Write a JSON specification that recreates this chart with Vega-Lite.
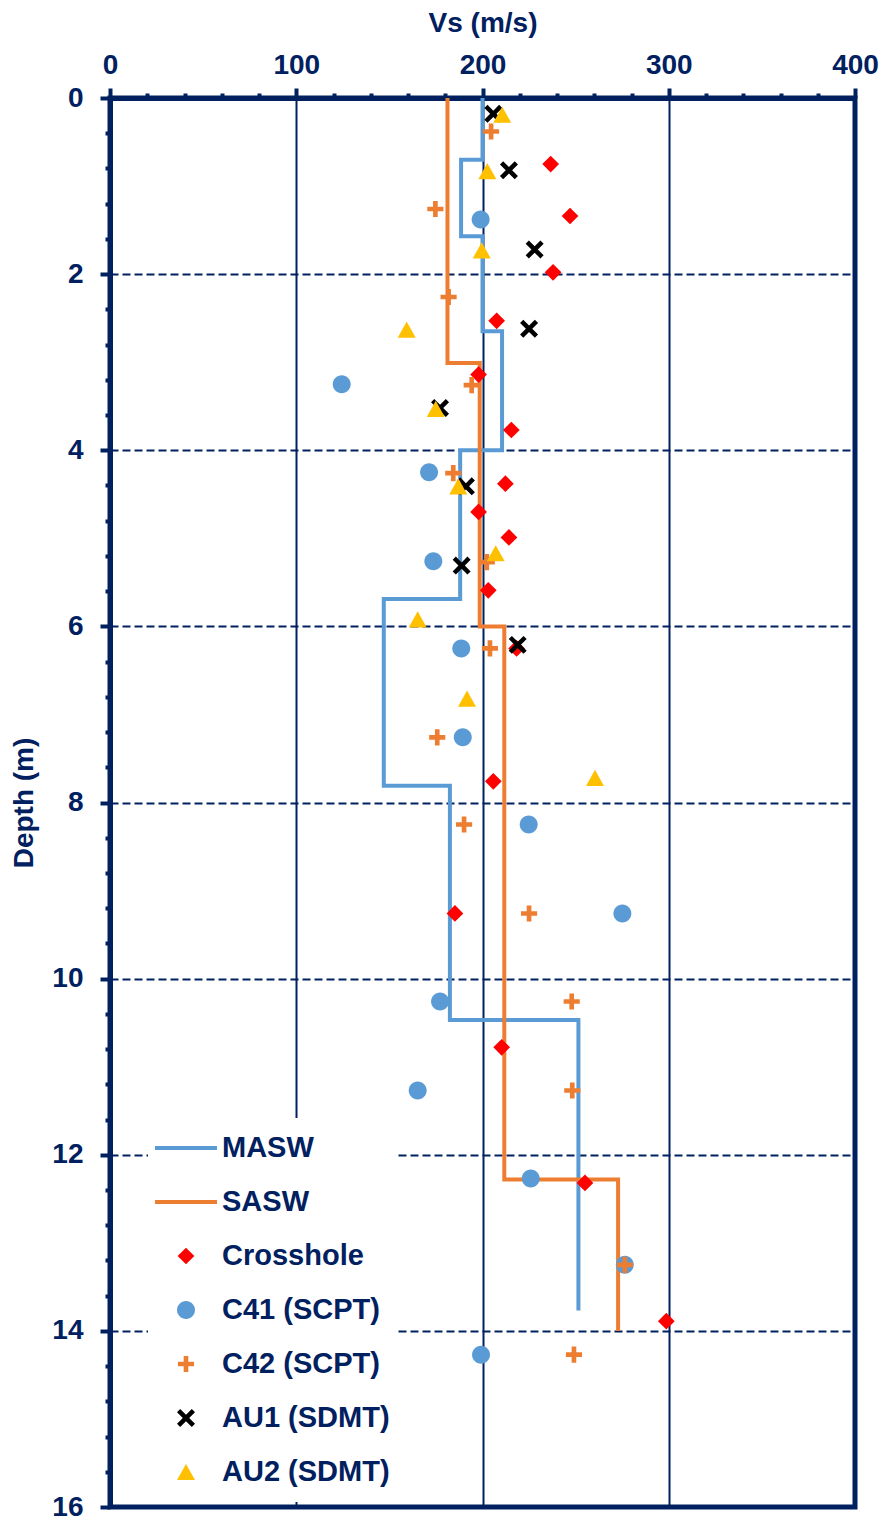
{
  "$schema": "https://vega.github.io/schema/vega-lite/v6.json",
  "width": 745,
  "height": 1409,
  "autosize": {"type": "none"},
  "padding": {"left": 110, "top": 98, "right": 30, "bottom": 12},
  "background": "white",
  "config": {
    "font": "Liberation Sans",
    "view": {"stroke": "#002060", "strokeWidth": 5}
  },
  "datasets": {
    "lines": [
      {"series": "MASW", "i": 0, "vs": 200, "depth": 0},
      {"series": "MASW", "i": 1, "vs": 200, "depth": 0.70},
      {"series": "MASW", "i": 2, "vs": 188.5, "depth": 0.70},
      {"series": "MASW", "i": 3, "vs": 188.5, "depth": 1.57},
      {"series": "MASW", "i": 4, "vs": 200, "depth": 1.57},
      {"series": "MASW", "i": 5, "vs": 200, "depth": 2.65},
      {"series": "MASW", "i": 6, "vs": 210.5, "depth": 2.65},
      {"series": "MASW", "i": 7, "vs": 210.5, "depth": 4.0},
      {"series": "MASW", "i": 8, "vs": 188, "depth": 4.0},
      {"series": "MASW", "i": 9, "vs": 188, "depth": 5.69},
      {"series": "MASW", "i": 10, "vs": 147, "depth": 5.69},
      {"series": "MASW", "i": 11, "vs": 147, "depth": 7.81},
      {"series": "MASW", "i": 12, "vs": 182.5, "depth": 7.81},
      {"series": "MASW", "i": 13, "vs": 182.5, "depth": 10.47},
      {"series": "MASW", "i": 14, "vs": 251.5, "depth": 10.47},
      {"series": "MASW", "i": 15, "vs": 251.5, "depth": 13.77},
      {"series": "SASW", "i": 0, "vs": 181.2, "depth": 0},
      {"series": "SASW", "i": 1, "vs": 181.2, "depth": 3.01},
      {"series": "SASW", "i": 2, "vs": 198.5, "depth": 3.01},
      {"series": "SASW", "i": 3, "vs": 198.5, "depth": 6.0},
      {"series": "SASW", "i": 4, "vs": 211.7, "depth": 6.0},
      {"series": "SASW", "i": 5, "vs": 211.7, "depth": 12.28},
      {"series": "SASW", "i": 6, "vs": 272.8, "depth": 12.28},
      {"series": "SASW", "i": 7, "vs": 272.8, "depth": 14.0}
    ],
    "points": [
      {"series": "Crosshole", "vs": 236.6, "depth": 0.75},
      {"series": "Crosshole", "vs": 247, "depth": 1.34},
      {"series": "Crosshole", "vs": 237.9, "depth": 1.98},
      {"series": "Crosshole", "vs": 207.6, "depth": 2.53},
      {"series": "Crosshole", "vs": 197.9, "depth": 3.14},
      {"series": "Crosshole", "vs": 215.5, "depth": 3.77},
      {"series": "Crosshole", "vs": 212.3, "depth": 4.38},
      {"series": "Crosshole", "vs": 197.9, "depth": 4.70},
      {"series": "Crosshole", "vs": 214.2, "depth": 4.99},
      {"series": "Crosshole", "vs": 203.1, "depth": 5.59},
      {"series": "Crosshole", "vs": 218.3, "depth": 6.25},
      {"series": "Crosshole", "vs": 205.8, "depth": 7.76},
      {"series": "Crosshole", "vs": 185.2, "depth": 9.26},
      {"series": "Crosshole", "vs": 210.3, "depth": 10.78},
      {"series": "Crosshole", "vs": 255, "depth": 12.32},
      {"series": "Crosshole", "vs": 298.7, "depth": 13.89},
      {"series": "C41 (SCPT)", "vs": 199, "depth": 1.38},
      {"series": "C41 (SCPT)", "vs": 124.4, "depth": 3.25},
      {"series": "C41 (SCPT)", "vs": 171.3, "depth": 4.25},
      {"series": "C41 (SCPT)", "vs": 173.6, "depth": 5.26},
      {"series": "C41 (SCPT)", "vs": 188.6, "depth": 6.25},
      {"series": "C41 (SCPT)", "vs": 189.4, "depth": 7.26},
      {"series": "C41 (SCPT)", "vs": 224.8, "depth": 8.25},
      {"series": "C41 (SCPT)", "vs": 275.1, "depth": 9.26},
      {"series": "C41 (SCPT)", "vs": 177.2, "depth": 10.26},
      {"series": "C41 (SCPT)", "vs": 165.2, "depth": 11.27},
      {"series": "C41 (SCPT)", "vs": 225.9, "depth": 12.27},
      {"series": "C41 (SCPT)", "vs": 276.4, "depth": 13.25},
      {"series": "C41 (SCPT)", "vs": 199.2, "depth": 14.27},
      {"series": "C42 (SCPT)", "vs": 204.6, "depth": 0.38},
      {"series": "C42 (SCPT)", "vs": 174.7, "depth": 1.26},
      {"series": "C42 (SCPT)", "vs": 181.8, "depth": 2.26},
      {"series": "C42 (SCPT)", "vs": 194.2, "depth": 3.26},
      {"series": "C42 (SCPT)", "vs": 184.3, "depth": 4.26},
      {"series": "C42 (SCPT)", "vs": 202.3, "depth": 5.27},
      {"series": "C42 (SCPT)", "vs": 204, "depth": 6.25},
      {"series": "C42 (SCPT)", "vs": 175.7, "depth": 7.26},
      {"series": "C42 (SCPT)", "vs": 190.1, "depth": 8.25},
      {"series": "C42 (SCPT)", "vs": 225, "depth": 9.26},
      {"series": "C42 (SCPT)", "vs": 247.9, "depth": 10.26},
      {"series": "C42 (SCPT)", "vs": 248.2, "depth": 11.27},
      {"series": "C42 (SCPT)", "vs": 276.4, "depth": 13.25},
      {"series": "C42 (SCPT)", "vs": 249.1, "depth": 14.27},
      {"series": "AU1 (SDMT)", "vs": 205.8, "depth": 0.18},
      {"series": "AU1 (SDMT)", "vs": 214.2, "depth": 0.82},
      {"series": "AU1 (SDMT)", "vs": 228, "depth": 1.72},
      {"series": "AU1 (SDMT)", "vs": 225, "depth": 2.62},
      {"series": "AU1 (SDMT)", "vs": 177.2, "depth": 3.52},
      {"series": "AU1 (SDMT)", "vs": 191.1, "depth": 4.41},
      {"series": "AU1 (SDMT)", "vs": 188.8, "depth": 5.31},
      {"series": "AU1 (SDMT)", "vs": 218.9, "depth": 6.21},
      {"series": "AU2 (SDMT)", "vs": 210.6, "depth": 0.19},
      {"series": "AU2 (SDMT)", "vs": 202.6, "depth": 0.83},
      {"series": "AU2 (SDMT)", "vs": 199.6, "depth": 1.73},
      {"series": "AU2 (SDMT)", "vs": 159.3, "depth": 2.63},
      {"series": "AU2 (SDMT)", "vs": 174.9, "depth": 3.53},
      {"series": "AU2 (SDMT)", "vs": 187, "depth": 4.41},
      {"series": "AU2 (SDMT)", "vs": 207.1, "depth": 5.17},
      {"series": "AU2 (SDMT)", "vs": 165.2, "depth": 5.92},
      {"series": "AU2 (SDMT)", "vs": 191.7, "depth": 6.82},
      {"series": "AU2 (SDMT)", "vs": 260.4, "depth": 7.72}
    ]
  },
  "layer": [
    {
      "data": {"name": "lines"},
      "mark": {"type": "line", "strokeWidth": 4, "strokeJoin": "miter"},
      "encoding": {
        "x": {
          "field": "vs", "type": "quantitative",
          "scale": {"domain": [0, 400], "nice": false, "zero": true},
          "axis": {
            "orient": "top",
            "values": [0,20,40,60,80,100,120,140,160,180,200,220,240,260,280,300,320,340,360,380,400],
            "tickCount": 200,
            "labelExpr": "datum.value % 100 === 0 ? '' + datum.value : ''",
            "labelOverlap": false,
            "labelFlush": false,
            "labelBound": false,
            "title": "Vs (m/s)",
            "titleFont": "Liberation Sans",
            "titleFontSize": 28,
            "titleFontWeight": "bold",
            "titleColor": "#002060",
            "titlePadding": 14,
            "labelFont": "Liberation Sans",
            "labelFontSize": 28,
            "labelFontWeight": "bold",
            "labelColor": "#002060",
            "labelPadding": 9,
            "domainColor": "#002060",
            "domainWidth": 5,
            "tickColor": "#002060",
            "tickWidth": 4,
            "tickSize": {"condition": {"test": "datum.value % 100 === 0", "value": 10}, "value": 5},
            "grid": true,
            "gridColor": "#002060",
            "gridWidth": 2,
            "gridOpacity": {"condition": {"test": "datum.value % 100 === 0", "value": 1}, "value": 0}
          }
        },
        "y": {
          "field": "depth", "type": "quantitative",
          "scale": {"domain": [0, 16], "reverse": true, "nice": false, "zero": true},
          "axis": {
            "orient": "left",
            "values": [0,0.4,0.8,1.2,1.6,2,2.4,2.8,3.2,3.6,4,4.4,4.8,5.2,5.6,6,6.4,6.8,7.2,7.6,8,8.4,8.8,9.2,9.6,10,10.4,10.8,11.2,11.6,12,12.4,12.8,13.2,13.6,14,14.4,14.8,15.2,15.6,16],
            "tickCount": 200,
            "labelExpr": "datum.value % 2 === 0 ? '' + datum.value : ''",
            "labelOverlap": false,
            "labelFlush": false,
            "labelBound": false,
            "title": "Depth (m)",
            "titleFont": "Liberation Sans",
            "titleFontSize": 28,
            "titleFontWeight": "bold",
            "titleColor": "#002060",
            "titlePadding": 13,
            "labelFont": "Liberation Sans",
            "labelFontSize": 28,
            "labelFontWeight": "bold",
            "labelColor": "#002060",
            "labelPadding": 17,
            "domainColor": "#002060",
            "domainWidth": 5,
            "tickColor": "#002060",
            "tickWidth": 4,
            "tickSize": {"condition": {"test": "datum.value % 2 === 0", "value": 10}, "value": 5},
            "grid": true,
            "gridColor": "#002060",
            "gridWidth": 2,
            "gridDash": [8, 4],
            "gridOpacity": {"condition": {"test": "datum.value % 2 === 0", "value": 1}, "value": 0}
          }
        },
        "order": {"field": "i", "type": "quantitative"},
        "stroke": {
          "field": "series", "type": "nominal",
          "scale": {
            "domain": ["MASW", "SASW", "Crosshole", "C41 (SCPT)", "C42 (SCPT)", "AU1 (SDMT)", "AU2 (SDMT)"],
            "range": ["#5B9BD5", "#ED7D31", "transparent", "transparent", "transparent", "transparent", "transparent"]
          },
          "legend": {
            "title": null, "orient": "none", "legendX": 38, "legendY": 1020, "direction": "vertical",
            "fillColor": "white", "padding": 5, "clipHeight": 50, "rowPadding": 4,
            "symbolSize": 3844, "symbolStrokeWidth": 4, "symbolOpacity": 1,
            "labelFont": "Liberation Sans", "labelFontSize": 29, "labelFontWeight": "bold",
            "labelColor": "#002060", "labelOffset": 3, "labelLimit": 400
          }
        }
      }
    },
    {
      "data": {"name": "points"},
      "mark": {"type": "point", "filled": true, "size": 3844, "strokeWidth": 0, "opacity": 1},
      "encoding": {
        "x": {"field": "vs", "type": "quantitative"},
        "y": {"field": "depth", "type": "quantitative"},
        "fill": {
          "field": "series", "type": "nominal",
          "scale": {
            "domain": ["MASW", "SASW", "Crosshole", "C41 (SCPT)", "C42 (SCPT)", "AU1 (SDMT)", "AU2 (SDMT)"],
            "range": ["transparent", "transparent", "#FF0000", "#5B9BD5", "#ED7D31", "#000000", "#FFC000"]
          },
          "legend": {
            "title": null, "orient": "none", "legendX": 38, "legendY": 1020, "direction": "vertical",
            "fillColor": "white", "padding": 5, "clipHeight": 50, "rowPadding": 4,
            "symbolSize": 3844, "symbolStrokeWidth": 4, "symbolOpacity": 1,
            "labelFont": "Liberation Sans", "labelFontSize": 29, "labelFontWeight": "bold",
            "labelColor": "#002060", "labelOffset": 3, "labelLimit": 400
          }
        },
        "stroke": {
          "field": "series", "type": "nominal",
          "scale": {
            "domain": ["MASW", "SASW", "Crosshole", "C41 (SCPT)", "C42 (SCPT)", "AU1 (SDMT)", "AU2 (SDMT)"],
            "range": ["#5B9BD5", "#ED7D31", "transparent", "transparent", "transparent", "transparent", "transparent"]
          }
        },
        "shape": {
          "field": "series", "type": "nominal",
          "scale": {
            "domain": ["MASW", "SASW", "Crosshole", "C41 (SCPT)", "C42 (SCPT)", "AU1 (SDMT)", "AU2 (SDMT)"],
            "range": [
              "stroke",
              "stroke",
              "M0,-0.27L0.27,0L0,0.27L-0.27,0Z",
              "M-0.29,0A0.29,0.29,0,1,0,0.29,0A0.29,0.29,0,1,0,-0.29,0Z",
              "M-0.26,-0.075L-0.075,-0.075L-0.075,-0.26L0.075,-0.26L0.075,-0.075L0.26,-0.075L0.26,0.075L0.075,0.075L0.075,0.26L-0.075,0.26L-0.075,0.075L-0.26,0.075Z",
              "M-0.29,-0.187L-0.187,-0.29L0,-0.103L0.187,-0.29L0.29,-0.187L0.103,0L0.29,0.187L0.187,0.29L0,0.103L-0.187,0.29L-0.29,0.187L-0.103,0Z",
              "M0,-0.26L0.29,0.26L-0.29,0.26Z"
            ]
          },
          "legend": {
            "title": null, "orient": "none", "legendX": 38, "legendY": 1020, "direction": "vertical",
            "fillColor": "white", "padding": 5, "clipHeight": 50, "rowPadding": 4,
            "symbolSize": 3844, "symbolStrokeWidth": 4, "symbolOpacity": 1,
            "labelFont": "Liberation Sans", "labelFontSize": 29, "labelFontWeight": "bold",
            "labelColor": "#002060", "labelOffset": 3, "labelLimit": 400
          }
        }
      }
    }
  ]
}
